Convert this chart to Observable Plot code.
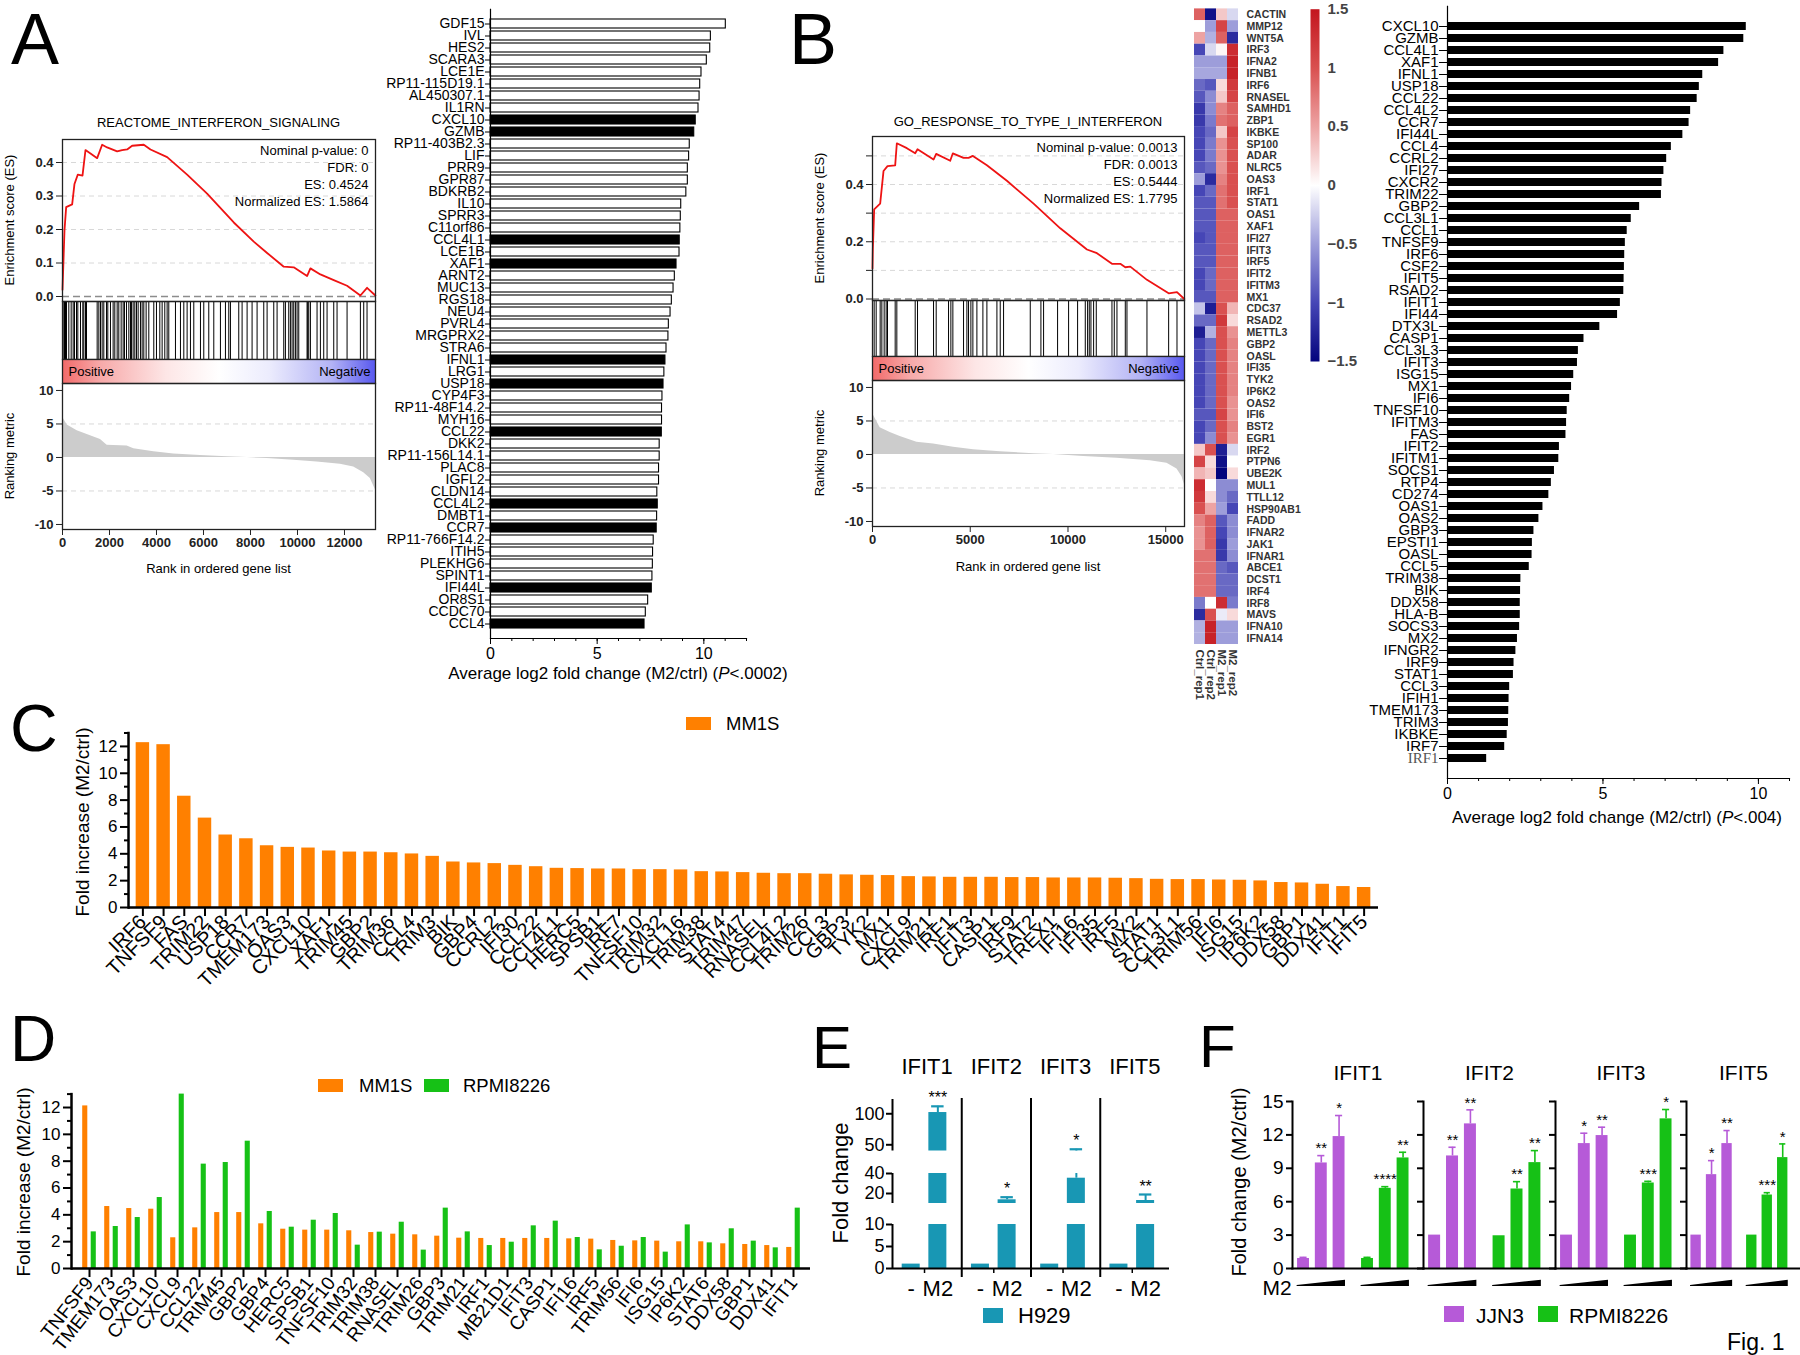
<!DOCTYPE html>
<html>
<head>
<meta charset="utf-8">
<script src="https://cdn.jsdelivr.net/npm/d3@7"></script>
<script src="https://cdn.jsdelivr.net/npm/@observablehq/plot@0.6"></script>
<style>
html, body { margin: 0; padding: 0; background: #fff; }
#fig { position: relative; width: 1800px; height: 1355px; overflow: hidden; background: #fff; }
#fig svg { position: absolute; overflow: visible; }
.lbl { position: absolute; white-space: nowrap; line-height: 1; font-family: "Liberation Sans", Arial, Helvetica, sans-serif; color: #000; }
</style>
</head>
<body>
<div id="fig"></div>
<script>
// ================= DATA =================
// Panel A – GSEA (REACTOME_INTERFERON_SIGNALING)
const titleA = "REACTOME_INTERFERON_SIGNALING";
const statsA = ["Nominal p-value: 0", "FDR: 0", "ES: 0.4524", "Normalized ES: 1.5864"];
const esCurveA = [[0,0.02],[14,0.049],[85,0.198],[156,0.267],[411,0.275],[510,0.336],[652,0.364],[851,0.361],[978,0.437],[1191,0.427],[1475,0.413],[1687,0.453],[1900,0.445],[2326,0.433],[2538,0.437],[2751,0.439],[2964,0.45],[3460,0.453],[3744,0.439],[4453,0.416],[5303,0.364],[6154,0.307],[7289,0.221],[8139,0.164],[8707,0.13],[9416,0.089],[9841,0.087],[10408,0.061],[10550,0.084],[10975,0.066],[11543,0.049],[12110,0.032],[12677,0.003],[12960,0.026],[13315,0.003]];
const hitsA = [57,85,128,170,269,369,454,510,596,652,766,865,907,978,1021,1475,1546,1617,1687,1758,1872,1928,2042,2155,2226,2326,2396,2496,2581,2637,2723,2822,2893,2935,3006,3077,3148,3219,3318,3389,3460,3559,3673,3885,3999,4141,4240,4353,4453,4523,4807,5020,5162,5303,5445,5587,5871,6012,6225,6438,6721,6934,7076,7147,7501,7643,7856,8068,8281,8565,8707,8990,9132,9416,9486,9628,9699,9770,9841,9912,9983,10054,10408,10436,10479,10550,10833,10975,11117,11259,11543,11684,12110,12677,12819,12960];
const metricA = [[0,6.0],[14,5.97],[199,4.83],[624,3.98],[1049,3.41],[1617,2.67],[1900,1.82],[2751,1.7],[3035,1.31],[3885,0.85],[4736,0.51],[5871,0.28],[7005,0.11],[7856,0],[8707,-0.17],[9841,-0.4],[10833,-0.68],[11826,-1.02],[12393,-1.42],[12819,-2.27],[13102,-3.13],[13244,-4.26],[13315,-4.83]];
const rankTicksA = [0, 2000, 4000, 6000, 8000, 10000, 12000];

// Panel A – top up-regulated genes (M2/ctrl)
const genesA = ["GDF15","IVL","HES2","SCARA3","LCE1E","RP11-115D19.1","AL450307.1","IL1RN","CXCL10","GZMB","RP11-403B2.3","LIF","PRR9","GPR87","BDKRB2","IL10","SPRR3","C11orf86","CCL4L1","LCE1B","XAF1","ARNT2","MUC13","RGS18","NEU4","PVRL4","MRGPRX2","STRA6","IFNL1","LRG1","USP18","CYP4F3","RP11-48F14.2","MYH16","CCL22","DKK2","RP11-156L14.1","PLAC8","IGFL2","CLDN14","CCL4L2","DMBT1","CCR7","RP11-766F14.2","ITIH5","PLEKHG6","SPINT1","IFI44L","OR8S1","CCDC70","CCL4"];
const valuesA = [11.03,10.33,10.30,10.14,9.89,9.83,9.80,9.75,9.62,9.55,9.34,9.31,9.25,9.25,9.18,8.94,8.92,8.90,8.87,8.86,8.72,8.64,8.58,8.50,8.44,8.36,8.34,8.25,8.20,8.15,8.11,8.06,8.04,8.04,8.03,7.93,7.93,7.90,7.90,7.82,7.84,7.81,7.79,7.65,7.62,7.61,7.59,7.56,7.39,7.28,7.22];
const interferonGenesA = ["CXCL10","GZMB","CCL4L1","XAF1","IFNL1","USP18","CCL22","CCL4L2","CCR7","IFI44L","CCL4"];

// Panel B – GSEA (GO_RESPONSE_TO_TYPE_I_INTERFERON)
const titleB = "GO_RESPONSE_TO_TYPE_I_INTERFERON";
const statsB = ["Nominal p-value: 0.0013", "FDR: 0.0013", "ES: 0.5444", "Normalized ES: 1.7795"];
const esCurveB = [[0,0.107],[17,0.173],[85,0.313],[392,0.333],[563,0.447],[768,0.464],[1160,0.467],[1245,0.544],[1757,0.527],[2184,0.509],[2303,0.523],[3122,0.487],[3258,0.507],[3975,0.483],[4111,0.509],[4657,0.493],[4913,0.493],[5135,0.5],[5852,0.467],[6875,0.413],[8240,0.333],[9605,0.247],[10970,0.173],[11481,0.16],[12249,0.123],[12676,0.123],[12931,0.111],[13187,0.113],[14040,0.067],[15149,0.02],[15576,0.024],[15951,0.0]];
const hitsB = [85,188,392,478,597,699,768,1160,1245,2184,2303,3122,3258,3890,4009,4111,4657,4828,4913,5033,5135,5340,5647,5852,6364,6534,6705,8070,8615,8752,9468,10031,10492,10884,11003,11089,11174,11311,11447,12249,12368,12505,12931,13017,14040,15149,15576];
const metricB = [[0,6.0],[51,5.86],[392,3.97],[904,3.28],[1416,2.7],[2269,1.84],[3122,1.55],[4146,1.09],[5169,0.69],[6534,0.4],[8240,0.11],[9264,0],[10799,-0.29],[12505,-0.57],[14211,-0.92],[15064,-1.32],[15576,-2.18],[15832,-3.33],[15951,-4.48]];
const rankTicksB = [0, 5000, 10000, 15000];

// Panel B – heatmap (z-scores)
const heatSamples = ["Ctrl_rep1","Ctrl_rep2","M2_rep1","M2_rep2"];
const heatGenes = ["CACTIN","MMP12","WNT5A","IRF3","IFNA2","IFNB1","IRF6","RNASEL","SAMHD1","ZBP1","IKBKE","SP100","ADAR","NLRC5","OAS3","IRF1","STAT1","OAS1","XAF1","IFI27","IFIT3","IRF5","IFIT2","IFITM3","MX1","CDC37","RSAD2","METTL3","GBP2","OASL","IFI35","TYK2","IP6K2","OAS2","IFI6","BST2","EGR1","IRF2","PTPN6","UBE2K","MUL1","TTLL12","HSP90AB1","FADD","IFNAR2","JAK1","IFNAR1","ABCE1","DCST1","IRF4","IRF8","MAVS","IFNA10","IFNA14"];
const heatValues = [
 [0.9,-1.4,0.3,-0.2],[0.0,-0.5,1.1,-0.5],[0.5,-0.4,0.9,-1.2],[-1.0,-0.2,0.05,1.3],[-0.5,-0.5,-0.5,1.4],[-0.45,-0.45,-0.45,1.4],
 [-0.8,-0.9,0.2,1.2],[-0.9,-0.6,0.3,1.1],[-1.1,-0.6,0.7,0.9],[-1.1,-0.7,0.8,0.9],[-1.0,-0.8,0.3,1.1],[-1.0,-0.7,0.6,1.0],
 [-1.0,-0.7,0.6,1.0],[-0.9,-0.8,0.6,1.0],[-0.5,-1.2,0.7,1.0],[-1.0,-0.8,0.8,1.0],[-0.9,-0.9,0.8,1.0],[-0.9,-0.9,0.9,0.9],
 [-0.9,-0.9,0.9,0.9],[-1.0,-0.9,0.9,0.9],[-0.9,-0.9,0.9,0.9],[-0.9,-0.9,0.9,0.9],[-1.0,-0.8,0.9,0.9],[-1.0,-0.8,0.9,0.9],
 [-0.9,-0.9,0.9,0.9],[-0.3,-1.3,1.0,0.4],[-0.8,-0.8,1.2,0.2],[-1.3,-0.4,1.0,0.6],[-1.0,-0.8,1.0,0.7],[-1.0,-0.8,1.0,0.7],
 [-1.0,-0.8,1.0,0.7],[-1.0,-0.8,1.0,0.7],[-1.0,-0.8,1.0,0.7],[-1.0,-0.8,1.0,0.6],[-0.9,-0.9,1.1,0.6],[-1.0,-0.8,1.0,0.7],
 [-1.0,-0.6,1.0,0.6],[0.3,1.0,-1.3,-0.2],[1.1,0.2,-1.4,0.0],[0.4,0.3,-1.5,0.2],[1.3,0.0,-0.6,-0.6],[1.2,0.2,-0.6,-0.8],
 [1.0,0.5,-0.5,-1.0],[0.7,0.9,-0.9,-0.6],[0.6,0.9,-1.0,-0.6],[0.6,0.9,-1.1,-0.5],[0.8,0.8,-1.1,-0.6],[0.8,0.8,-0.8,-0.9],
 [0.8,0.8,-0.8,-0.8],[0.8,0.8,-0.8,-0.8],[-0.7,0.0,1.3,-0.7],[-1.2,1.0,-0.1,0.2],[-0.4,1.4,-0.5,-0.5],[-0.4,1.4,-0.5,-0.5]];
const heatDomain = [-1.5, -1, -0.5, 0, 0.5, 1, 1.5];
const heatRange = ["#03037d", "#4646b6", "#9d9dda", "#ffffff", "#eda3a3", "#d95050", "#c3161e"];
const heatTicks = [-1.5, -1, -0.5, 0, 0.5, 1, 1.5];

// Panel B – interferon genes (M2/ctrl)
const genesB = ["CXCL10","GZMB","CCL4L1","XAF1","IFNL1","USP18","CCL22","CCL4L2","CCR7","IFI44L","CCL4","CCRL2","IFI27","CXCR2","TRIM22","GBP2","CCL3L1","CCL1","TNFSF9","IRF6","CSF2","IFIT5","RSAD2","IFIT1","IFI44","DTX3L","CASP1","CCL3L3","IFIT3","ISG15","MX1","IFI6","TNFSF10","IFITM3","FAS","IFIT2","IFITM1","SOCS1","RTP4","CD274","OAS1","OAS2","GBP3","EPSTI1","OASL","CCL5","TRIM38","BIK","DDX58","HLA-B","SOCS3","MX2","IFNGR2","IRF9","STAT1","CCL3","IFIH1","TMEM173","TRIM3","IKBKE","IRF7","IRF1"];
const valuesB = [9.61,9.53,8.89,8.72,8.21,8.10,8.03,7.82,7.77,7.57,7.20,7.05,6.96,6.90,6.88,6.18,5.91,5.78,5.72,5.70,5.69,5.68,5.67,5.56,5.47,4.90,4.39,4.21,4.18,4.06,3.99,3.93,3.85,3.83,3.81,3.60,3.58,3.44,3.34,3.26,3.07,2.94,2.78,2.73,2.72,2.63,2.36,2.35,2.34,2.34,2.32,2.25,2.20,2.14,2.12,2.00,1.98,1.97,1.96,1.92,1.84,1.26];

// Panel C – MM1S fold increase
const genesC = ["IRF6","TNFSF9","FAS","TRIM22","USP18","CCR7","TMEM173","OAS3","CXCL10","XAF1","TRIM45","GBP2","TRIM36","CCL4","TRIM3","BIK","GBP4","CCRL2","IFI30","CCL22","CCL4L1","HERC5","SPSB1","IRF7","TNFSF10","TRIM32","CXCL16","TRIM38","STAT4","TRIM47","RNASEL","CCL4L2","TRIM26","CCL3","GBP3","TYK2","MX1","CXCL9","TRIM21","IRF1","IFIT3","CASP1","IRF9","STAT2","TREX1","IFI16","IFI35","IRF5","MX2","STAT1","CCL3L1","TRIM56","IFI6","ISG15","IP6K2","DDX58","GBP1","DDX41","IFIT1","IFIT5"];
const valuesC = [12.28,12.13,8.29,6.66,5.40,5.12,4.60,4.48,4.43,4.21,4.13,4.13,4.08,3.99,3.81,3.39,3.32,3.27,3.14,3.04,2.92,2.90,2.87,2.87,2.82,2.82,2.80,2.67,2.65,2.60,2.55,2.52,2.52,2.48,2.43,2.40,2.38,2.30,2.28,2.25,2.25,2.25,2.23,2.23,2.20,2.20,2.20,2.18,2.15,2.10,2.08,2.08,2.05,2.03,1.98,1.86,1.83,1.73,1.56,1.49];
const foldTicks = [0, 2, 4, 6, 8, 10, 12];
const foldMinorTicks = [1, 3, 5, 7, 9, 11, 13];

// Panel D – MM1S vs RPMI8226
const genesD = ["TNFSF9","TMEM173","OAS3","CXCL10","CXCL9","CCL22","TRIM45","GBP2","GBP4","HERC5","SPSB1","TNFSF10","TRIM32","TRIM38","RNASEL","TRIM26","GBP3","TRIM21","IRF1","MB21D1","IFIT3","CASP1","IFI16","IRF5","TRIM56","IFI6","ISG15","IP6K2","STAT6","DDX58","GBP1","DDX41","IFIT1"];
const mm1sD = [12.12,4.62,4.47,4.42,2.29,3.03,4.17,4.17,3.33,2.93,2.86,2.86,2.81,2.68,2.56,2.51,2.41,2.26,2.24,2.24,2.24,2.24,2.21,2.19,2.09,2.06,2.04,1.99,1.99,1.84,1.79,1.71,1.57];
const rpmiD = [2.73,3.13,3.80,5.29,13.0,7.78,7.90,9.49,4.25,3.08,3.60,4.10,1.74,2.71,3.45,1.37,4.50,2.73,1.71,1.96,3.18,3.53,2.31,1.39,1.66,2.31,1.22,3.25,1.91,2.96,2.04,1.54,4.50];

// Panel E – H929 fold change (broken axis)
const genesE = ["IFIT1","IFIT2","IFIT3","IFIT5"];
const ctrlE = [1, 1, 1, 1];
const m2E = [102, 13.7, 35.3, 13];
const errE = [10, 2.6, 7.5, 6];
const starsE = ["***", "*", "*", "**"];

// Panel F – JJN3 / RPMI8226, increasing M2
const genesF = ["IFIT1","IFIT2","IFIT3","IFIT5"];
const jjn3F = [[0.9,9.48,11.85],[3.0,10.11,12.99],[3.0,11.22,11.94],[3.0,8.43,11.22]];
const jjn3ErrF = [[0.1,0.66,1.89],[0,0.78,1.26],[0,0.93,0.75],[0,1.26,1.17]];
const rpmiF = [[0.9,7.2,9.93],[2.94,7.14,9.51],[3.0,7.68,13.44],[3.0,6.6,9.96]];
const rpmiErrF = [[0.1,0.15,0.51],[0,0.66,1.08],[0,0.15,0.84],[0,0.21,1.23]];
const starsJJN3F = [["","**","*"],["","**","**"],["","*","**"],["","*","**"]];
const starsRPMIF = [["","****","**"],["","**","**"],["","***","*"],["","***","*"]];
const ticksF = [0, 3, 6, 9, 12, 15];

// ================= HELPERS =================
const FONT = '"Liberation Sans", Arial, Helvetica, sans-serif';
const ORANGE = "#ff8000", GREEN = "#16c116", PURPLE = "#b65ad8", TEAL = "#1897b4";
const fig = document.getElementById("fig");
function place(svg, left, top) { svg.style.left = left + "px"; svg.style.top = top + "px"; fig.appendChild(svg); return svg; }
function plot(o) {
  return Plot.plot({...o, style: {fontFamily: FONT, fontSize: "13px", color: "#000", background: "none", overflow: "visible"}});
}
function lab(html, x, y, o = {}) {
  const {size = 14, anchor = "middle", rotate = 0, weight = "normal", color = "#000", family = FONT} = o;
  const d = document.createElement("div");
  d.className = "lbl";
  d.innerHTML = html;
  Object.assign(d.style, {left: x + "px", top: y + "px", fontSize: size + "px", fontWeight: weight, color, fontFamily: family});
  const tx = anchor === "start" ? "0%" : anchor === "end" ? "-100%" : "-50%";
  d.style.transform = `translate(${tx},-50%)` + (rotate ? ` rotate(${rotate}deg)` : "");
  fig.appendChild(d);
  return d;
}
function swatch(x, y, w, h, color) {
  const d = document.createElement("div");
  Object.assign(d.style, {position: "absolute", left: x + "px", top: y + "px", width: w + "px", height: h + "px", background: color});
  fig.appendChild(d);
}
function addGradient(svg, id, stops, vertical) {
  const ns = "http://www.w3.org/2000/svg";
  const defs = document.createElementNS(ns, "defs");
  const g = document.createElementNS(ns, "linearGradient");
  g.setAttribute("id", id);
  if (vertical) { g.setAttribute("x1", "0"); g.setAttribute("y1", "0"); g.setAttribute("x2", "0"); g.setAttribute("y2", "1"); }
  for (const [off, col] of stops) {
    const s = document.createElementNS(ns, "stop");
    s.setAttribute("offset", off); s.setAttribute("stop-color", col); g.appendChild(s);
  }
  defs.appendChild(g);
  svg.insertBefore(defs, svg.firstChild);
}
const gseaGradient = [["0", "#f26a6a"], ["0.12", "#f7a9a9"], ["0.33", "#fde6e6"], ["0.5", "#ffffff"], ["0.66", "#ececfd"], ["0.86", "#b3b3f5"], ["1", "#5858ef"]];

// ================= PANEL LETTERS =================
lab("A", 11, 39, {size: 72, anchor: "start"});
lab("B", 789, 39, {size: 72, anchor: "start"});
lab("C", 10, 728, {size: 66, anchor: "start"});
lab("D", 10, 1039, {size: 64, anchor: "start"});
lab("E", 812, 1048, {size: 60, anchor: "start"});
lab("F", 1199, 1047, {size: 60, anchor: "start"});

// ================= GSEA =================
function gsea(c) {
  const common = {width: c.width, marginLeft: c.ml, marginRight: c.mr};
  const xs = {domain: [0, c.xMax], axis: null};
  const tickText = {fontSize: 13, fontWeight: "bold", color: "#222"};
  place(plot({...common, height: c.esH, marginTop: 0, marginBottom: 0, x: xs, y: {domain: c.esDomain, axis: null},
    marks: [
      Plot.ruleY(c.esGrid, {stroke: "#d8d8d8", strokeDasharray: "5,4"}),
      Plot.ruleY([0], {stroke: "#8c8c8c", strokeDasharray: "7,4", strokeWidth: 1.7}),
      Plot.line(c.curve, {x: d => d[0], y: d => d[1], stroke: "#ee1313", strokeWidth: 1.8}),
      Plot.axisY({ticks: c.esTicks, tickFormat: c.esFormat, tickSize: 6, tickPadding: 3, ...tickText, label: null}),
      Plot.text([c.stats.join("\n")], {text: d => d, frameAnchor: "top-right", lineAnchor: "top", dx: -7, dy: 3, fontSize: 13, lineHeight: 1.31}),
      Plot.frame({stroke: "#222", strokeWidth: 1.3})
    ]}), c.left, c.esTop);
  place(plot({...common, height: c.hitsH, marginTop: 0, marginBottom: 0, x: xs,
    marks: [Plot.ruleX(c.hits, {x: d => d, stroke: "#000", strokeWidth: 1}), Plot.frame({stroke: "#222", strokeWidth: 1.3})]}), c.left, c.hitsTop);
  const g = plot({...common, height: c.gradH, marginTop: 0, marginBottom: 0, x: xs,
    marks: [
      Plot.frame({fill: `url(#${c.gradId})`, stroke: "#222", strokeWidth: 1.3}),
      Plot.text(["Positive"], {text: d => d, frameAnchor: "left", dx: 6, fontSize: 13}),
      Plot.text(["Negative"], {text: d => d, frameAnchor: "right", dx: -5, fontSize: 13})
    ]});
  addGradient(g, c.gradId, gseaGradient, false);
  place(g, c.left, c.gradTop);
  place(plot({...common, height: c.rankH + 45, marginTop: 0, marginBottom: 45,
    x: {domain: [0, c.xMax], axis: null}, y: {domain: [-10.75, 11.04], axis: null},
    marks: [
      Plot.ruleY([-5, 5], {stroke: "#d8d8d8", strokeDasharray: "5,4"}),
      Plot.areaY(c.metric, {x: d => d[0], y: d => d[1], fill: "#cccccc"}),
      Plot.axisY({ticks: [-10, -5, 0, 5, 10], tickFormat: d => String(d), tickSize: 6, tickPadding: 3, ...tickText, label: null}),
      Plot.axisX({ticks: c.xTicks, tickFormat: d => String(d), tickSize: 6, tickPadding: 2, ...tickText, label: null}),
      Plot.frame({stroke: "#222", strokeWidth: 1.3})
    ]}), c.left, c.rankTop);
  lab(c.title, c.cx, c.titleY, {size: 13});
  lab("Rank in ordered gene list", c.cx, c.rankLabelY, {size: 13});
  lab("Enrichment score (ES)", c.ylabX, c.esTop + c.esH / 2, {size: 13, rotate: -90});
  lab("Ranking metric", c.ylabX, c.rankTop + c.rankH / 2, {size: 13, rotate: -90});
}
gsea({left: 0, width: 380, ml: 62, mr: 5, xMax: 13320, esTop: 139, esH: 162, esDomain: [-0.0149, 0.4687],
  esTicks: [0, 0.1, 0.2, 0.3, 0.4], esFormat: d3.format(".1f"), esGrid: [0.1, 0.2, 0.3, 0.4],
  hitsTop: 301, hitsH: 58, gradTop: 359, gradH: 24, rankTop: 383, rankH: 146, xTicks: rankTicksA, gradId: "gradA",
  cx: 218.5, titleY: 122, rankLabelY: 568, ylabX: 9, curve: esCurveA, hits: hitsA, metric: metricA, stats: statsA, title: titleA});
gsea({left: 800, width: 390, ml: 72, mr: 6, xMax: 15960, esTop: 136, esH: 164, esDomain: [-0.0052, 0.5677],
  esTicks: [0, 0.1, 0.2, 0.3, 0.4, 0.5], esFormat: d => Math.round(d * 10) % 2 === 0 ? d3.format(".1f")(d) : "", esGrid: [0.1, 0.2, 0.3, 0.4, 0.5],
  hitsTop: 300, hitsH: 56, gradTop: 356, gradH: 24, rankTop: 380, rankH: 146, xTicks: rankTicksB, gradId: "gradB",
  cx: 1028, titleY: 120.5, rankLabelY: 566, ylabX: 819, curve: esCurveB, hits: hitsB, metric: metricB, stats: statsB, title: titleB});

// ================= BAR CHART A =================
{
  const data = genesA.map((g, i) => ({gene: g, v: valuesA[i]}));
  const ifn = new Set(interferonGenesA);
  place(plot({width: 386, height: 690, marginLeft: 110, marginRight: 20, marginTop: 8.8, marginBottom: 52,
    x: {domain: [0, 12], axis: null},
    y: {type: "band", domain: genesA, paddingInner: 0.29, paddingOuter: 0.145, axis: null},
    marks: [
      Plot.barX(data, {y: "gene", x: "v", fill: d => ifn.has(d.gene) ? "#000000" : "#ffffff", stroke: "#000", strokeWidth: 1.1}),
      Plot.axisY({ticks: genesA, tickSize: 5, tickPadding: 1, fontSize: 14, label: null}),
      Plot.axisX({ticks: d3.range(0, 13), tickSize: 3, tickFormat: () => "", label: null}),
      Plot.axisX({ticks: [0, 5, 10], tickSize: 6, tickPadding: 3, fontSize: 16, label: null}),
      Plot.frame({anchor: "left", strokeWidth: 1.2}),
      Plot.frame({anchor: "bottom", strokeWidth: 1.2})
    ]}), 380, 0);
  lab("Average log2 fold change (M2/ctrl) (<i>P</i>&lt;.0002)", 618, 673, {size: 17});
}

// ================= HEATMAP B =================
{
  const cells = heatGenes.flatMap((g, i) => heatSamples.map((s, j) => ({gene: g, sample: s, value: heatValues[i][j]})));
  place(plot({width: 140, height: 714, marginLeft: 12, marginRight: 81, marginTop: 8.4, marginBottom: 70,
    x: {type: "band", domain: heatSamples, padding: 0, axis: null},
    y: {type: "band", domain: heatGenes, padding: 0, axis: null},
    color: {type: "linear", domain: heatDomain, range: heatRange, clamp: true},
    marks: [
      Plot.cell(cells, {x: "sample", y: "gene", fill: "value", inset: 0}),
      Plot.axisY({anchor: "right", ticks: heatGenes, tickSize: 0, tickPadding: 7, fontSize: 10.5, fontWeight: "bold", color: "#333", label: null}),
      Plot.axisX({anchor: "bottom", ticks: heatSamples, tickSize: 0, tickPadding: 5, tickRotate: 90, fontSize: 11.5, fontWeight: "bold", color: "#333", label: null})
    ]}), 1180, 0);
  const cb = plot({width: 70, height: 370, marginLeft: 10, marginRight: 51, marginTop: 8.7, marginBottom: 9,
    y: {domain: [heatDomain[0], heatDomain[heatDomain.length - 1]], axis: null},
    marks: [
      Plot.frame({fill: "url(#heatbar)"}),
      Plot.axisY({anchor: "right", ticks: heatTicks, tickFormat: d3.format("~g"), tickSize: 0, tickPadding: 8, fontSize: 15, fontWeight: "bold", color: "#444", label: null})
    ]});
  const lo = heatDomain[0], hi = heatDomain[heatDomain.length - 1];
  addGradient(cb, "heatbar", heatDomain.map((d, i) => [String((hi - d) / (hi - lo)), heatRange[i]]).reverse(), true);
  place(cb, 1300, 0);
}

// ================= BAR CHART B =================
{
  const data = genesB.map((g, i) => ({gene: g, v: valuesB[i]}));
  const svg = plot({width: 440, height: 828, marginLeft: 87, marginRight: 11, marginTop: 5.8, marginBottom: 50,
    x: {domain: [0, 11], axis: null},
    y: {type: "band", domain: genesB, paddingInner: 0.32, paddingOuter: 0.16, axis: null},
    marks: [
      Plot.barX(data, {y: "gene", x: "v", fill: "#000"}),
      Plot.axisY({ticks: genesB, tickSize: 8, tickPadding: 1, fontSize: 15, label: null}),
      Plot.axisX({ticks: d3.range(0, 12), tickSize: 3, tickFormat: () => "", label: null}),
      Plot.axisX({ticks: [0, 5, 10], tickSize: 6, tickPadding: 3, fontSize: 16, label: null}),
      Plot.frame({anchor: "left", strokeWidth: 1.2}),
      Plot.frame({anchor: "bottom", strokeWidth: 1.2})
    ]});
  svg.querySelectorAll("text").forEach(t => { if (t.textContent === "IRF1") { t.setAttribute("font-family", '"Liberation Serif", "Times New Roman", serif'); t.setAttribute("fill", "#555"); } });
  place(svg, 1360, 0);
  lab("Average log2 fold change (M2/ctrl) (<i>P</i>&lt;.004)", 1617, 817, {size: 17});
}

// ================= PANEL C =================
{
  const data = genesC.map((g, i) => ({gene: g, v: valuesC[i]}));
  place(plot({width: 1400, height: 302, marginLeft: 128, marginRight: 22, marginTop: 32.5, marginBottom: 95,
    x: {type: "band", domain: genesC, paddingInner: 0.35, paddingOuter: 0.37, axis: null},
    y: {domain: [0, 13], axis: null},
    marks: [
      Plot.barY(data, {x: "gene", y: "v", fill: ORANGE}),
      Plot.axisY({ticks: foldTicks, tickSize: 8, tickPadding: 3, strokeWidth: 2, fontSize: 17, label: null}),
      Plot.axisY({ticks: foldMinorTicks, tickSize: 4, strokeWidth: 2, tickFormat: () => "", label: null}),
      Plot.axisX({ticks: genesC, tickSize: 9, strokeWidth: 2, tickRotate: -45, tickPadding: 2, fontSize: 20, label: null}),
      Plot.frame({anchor: "left", strokeWidth: 2.5}),
      Plot.ruleY([0], {strokeWidth: 2.5})
    ]}), 0, 700);
  lab("Fold increase (M2/ctrl)", 82, 822, {size: 19, rotate: -90});
  swatch(686, 717, 25, 13, ORANGE);
  lab("MM1S", 726, 724, {size: 18.5, anchor: "start"});
}

// ================= PANEL D =================
{
  const data = genesD.map((g, i) => ({gene: g, mm1s: mm1sD[i], rpmi: rpmiD[i]}));
  place(plot({width: 820, height: 293, marginLeft: 71, marginRight: 10, marginTop: 33.6, marginBottom: 85,
    x: {type: "band", domain: genesD, padding: 0, axis: null},
    y: {domain: [0, 13], axis: null},
    marks: [
      Plot.barY(data, {x: "gene", y: "mm1s", fill: ORANGE, insetLeft: 4.2, insetRight: 12.7}),
      Plot.barY(data, {x: "gene", y: "rpmi", fill: GREEN, insetLeft: 12.7, insetRight: 4.2}),
      Plot.axisY({ticks: foldTicks, tickSize: 8, tickPadding: 3, strokeWidth: 2, fontSize: 17, label: null}),
      Plot.axisY({ticks: foldMinorTicks, tickSize: 4, strokeWidth: 2, tickFormat: () => "", label: null}),
      Plot.axisX({ticks: genesD, tickSize: 9, strokeWidth: 2, tickRotate: -52, tickPadding: 2, fontSize: 19, label: null}),
      Plot.frame({anchor: "left", strokeWidth: 2.5}),
      Plot.ruleY([0], {strokeWidth: 2.5})
    ]}), 0, 1060);
  lab("Fold increase (M2/ctrl)", 23, 1182, {size: 19, rotate: -90});
  swatch(318, 1079, 25, 13, ORANGE);
  lab("MM1S", 359, 1086, {size: 18.5, anchor: "start"});
  swatch(424, 1079, 25, 13, GREEN);
  lab("RPMI8226", 463, 1086, {size: 18.5, anchor: "start"});
}

// ================= PANEL E =================
{
  const barsE = genesE.flatMap((g, i) => [
    {gi: i, c: "-", v: ctrlE[i], e: 0, star: ""},
    {gi: i, c: "M2", v: m2E[i], e: errE[i], star: starsE[i]}]);
  const posE = d => d.gi + (d.c === "-" ? 0.27 : 0.655);
  const xE = {domain: [0, genesE.length], axis: null};
  const segs = [
    {dom: [0, 10], top: 1224, bottom: 1268, ticks: [0, 5, 10], mt: 10, mb: 40, base: true},
    {dom: [10, 40], top: 1173, bottom: 1203, ticks: [20, 40], mt: 10, mb: 5},
    {dom: [40, 123], top: 1099, bottom: 1150.5, ticks: [50, 100], mt: 19, mb: 3}
  ];
  for (const s of segs) {
    const inDom = v => v >= s.dom[0] && v <= s.dom[1];
    const caps = barsE.filter(d => d.e > 0 && inDom(d.v + d.e));
    const marks = [
      Plot.rect(barsE, {x1: d => posE(d) - 0.13, x2: d => posE(d) + 0.13, y1: 0, y2: "v", fill: TEAL}),
      Plot.ruleX(barsE.filter(d => d.e > 0), {x: posE, y1: "v", y2: d => d.v + d.e, stroke: TEAL, strokeWidth: 2}),
      Plot.ruleY(caps, {y: d => d.v + d.e, x1: d => posE(d) - 0.09, x2: d => posE(d) + 0.09, stroke: TEAL, strokeWidth: 2.2}),
      Plot.text(caps, {x: posE, y: d => d.v + d.e, text: "star", dy: -8, fontSize: 16}),
      Plot.axisY({ticks: s.ticks, tickSize: 6, tickPadding: 2, strokeWidth: 2, fontSize: 18, label: null}),
      Plot.ruleX([0], {strokeWidth: 2})
    ];
    if (s.base) {
      marks.push(Plot.ruleY([0], {strokeWidth: 2}));
      marks.push(Plot.axisX({ticks: genesE.map((g, i) => i + 0.4625), tickSize: 5, strokeWidth: 1.5, tickFormat: () => "", label: null}));
      marks.push(Plot.text(barsE, {x: posE, text: "c", frameAnchor: "bottom", lineAnchor: "middle", dy: 20, fontSize: 22}));
    }
    place(plot({width: 380, height: s.mt + (s.bottom - s.top) + s.mb, marginLeft: 92, marginRight: 11, marginTop: s.mt, marginBottom: s.mb,
      x: xE, y: {domain: s.dom, clamp: true, axis: null}, marks}), 800, s.top - s.mt);
  }
  place(plot({width: 380, height: 179, marginLeft: 92, marginRight: 11, marginTop: 0, marginBottom: 0, x: xE,
    marks: [
      Plot.ruleX(genesE.slice(1).map((g, i) => i + 1), {x: d => d, strokeWidth: 2}),
      Plot.text(genesE, {x: (d, i) => i + 0.5, text: d => d, frameAnchor: "top", lineAnchor: "middle", dy: -32, fontSize: 22})
    ]}), 800, 1098);
  lab("Fold change", 841, 1183, {size: 22, rotate: -90});
  swatch(983, 1308, 20, 15, TEAL);
  lab("H929", 1018, 1316, {size: 22, anchor: "start"});
}

// ================= PANEL F =================
{
  const axesF = [1292, 1423, 1555, 1686];
  const widthsF = [131, 132, 131, 114];
  genesF.forEach((gene, i) => {
    const data = [];
    jjn3F[i].forEach((v, k) => data.push({cell: "JJN3", slot: k, v, e: jjn3ErrF[i][k], star: starsJJN3F[i][k]}));
    rpmiF[i].forEach((v, k) => data.push({cell: "RPMI8226", slot: 3.6 + k, v, e: rpmiErrF[i][k], star: starsRPMIF[i][k]}));
    const col = d => d.cell === "JJN3" ? PURPLE : GREEN;
    const withErr = data.filter(d => d.e > 0);
    const wedges = ["JJN3", "RPMI8226"].flatMap(cell => {
      const s = data.filter(d => d.cell === cell).map(d => d.slot);
      return [{cell, x: d3.min(s) - 0.36, y1: -1.62, y2: -1.52}, {cell, x: d3.max(s) + 0.36, y1: -1.62, y2: -1.05}];
    });
    place(plot({width: 40 + widthsF[i], height: 200, marginLeft: 40, marginRight: 0, marginTop: 11, marginBottom: 22,
      x: {domain: [-0.62, 6.75], axis: null}, y: {domain: [0, 15], axis: null},
      marks: [
        Plot.rect(data, {x1: d => d.slot - 0.335, x2: d => d.slot + 0.335, y1: 0, y2: "v", fill: col}),
        Plot.ruleX(withErr, {x: "slot", y1: "v", y2: d => d.v + d.e, stroke: col, strokeWidth: 1.6}),
        Plot.ruleY(withErr, {y: d => d.v + d.e, x1: d => d.slot - 0.2, x2: d => d.slot + 0.2, stroke: col, strokeWidth: 1.6}),
        Plot.text(data.filter(d => d.star), {x: "slot", y: d => d.v + d.e, text: "star", dy: -7, fontSize: 15}),
        Plot.areaY(wedges, {x: "x", y1: "y1", y2: "y2", z: "cell", fill: "#000"}),
        Plot.axisY({ticks: ticksF, tickSize: 6, tickPadding: 3, tickFormat: i === 0 ? d => String(d) : () => "", fontSize: 19, strokeWidth: 2, label: null}),
        Plot.frame({anchor: "left", strokeWidth: 2}),
        Plot.frame({anchor: "bottom", strokeWidth: 2}),
        Plot.text([gene], {text: d => d, frameAnchor: "top", lineAnchor: "middle", dy: -28, fontSize: 21})
      ]}), axesF[i] - 40, 1090);
  });
  lab("Fold change (M2/ctrl)", 1239, 1182, {size: 20, rotate: -90});
  lab("M2", 1277, 1287, {size: 21});
  swatch(1444, 1306, 20, 16, PURPLE);
  lab("JJN3", 1476, 1315, {size: 21, anchor: "start"});
  swatch(1538, 1306, 20, 16, GREEN);
  lab("RPMI8226", 1569, 1315, {size: 21, anchor: "start"});
  lab("Fig. 1", 1727, 1342, {size: 23, anchor: "start"});
}
</script>
</body>
</html>
